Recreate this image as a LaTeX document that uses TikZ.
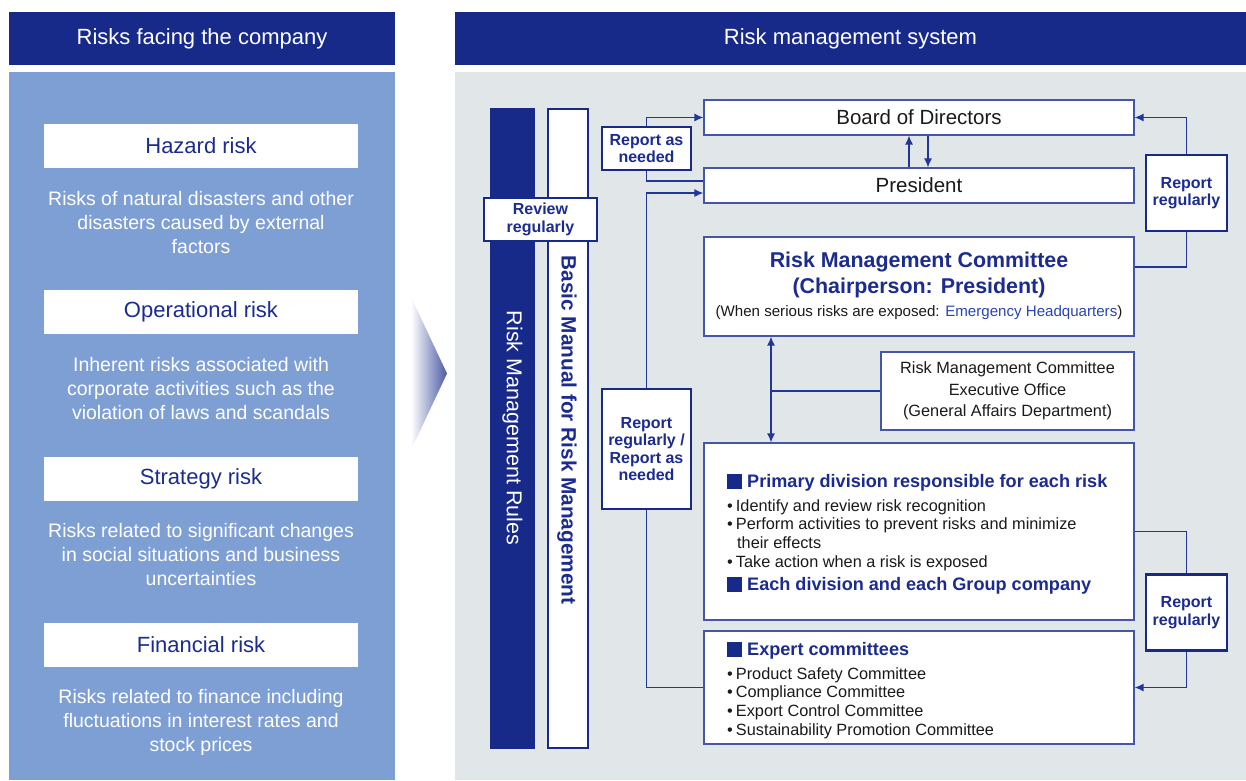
\documentclass[tikz,border=0pt]{standalone}
\usepackage{fontspec}
\setmainfont{Liberation Sans}
\usetikzlibrary{arrows.meta}
\definecolor{navy}{HTML}{172A8A}
\definecolor{panelblue}{HTML}{7E9FD3}
\definecolor{panelgray}{HTML}{E1E7E8}
\definecolor{lineblue}{HTML}{22359A}
\definecolor{boxline}{HTML}{4555AA}
\definecolor{titleblue}{HTML}{1B2C8E}
\definecolor{txt}{HTML}{1A1A1A}
\definecolor{linkblue}{HTML}{2A45B0}
\tikzset{
  header/.style={fill=navy,text=white,minimum width=386,minimum height=53,font=\fontsize{22}{26}\selectfont,inner sep=0},
  riskbox/.style={fill=white,minimum width=314,minimum height=44,text=titleblue,font=\fontsize{22}{26}\selectfont,inner sep=0},
  riskdesc/.style={text=white,align=center,font=\fontsize{19.5}{24}\selectfont,inner sep=0},
  orgbox/.style={draw=boxline,line width=1.2pt,fill=white,inner sep=0},
  labelbox/.style={draw=navy,line width=2.6pt,fill=white,text=titleblue,align=center,inner sep=0,font=\bfseries\fontsize{16}{17.5}\selectfont},
  conn/.style={draw=lineblue,line width=1.3pt},
  arr/.style={conn,-{Latex[length=9pt,width=8pt]}},
  dblarr/.style={conn,{Latex[length=9pt,width=8pt]}-{Latex[length=9pt,width=8pt]}},
  plain/.style={text=txt,inner sep=0},
  bullet/.style={text=txt,inner sep=0,anchor=base west,font=\fontsize{16.3}{18}\selectfont},
  sechead/.style={text=titleblue,inner sep=0,anchor=base west,font=\bfseries\fontsize{18.1}{20}\selectfont},
  sq/.style={fill=navy,minimum width=15,minimum height=15,inner sep=0}
}
\begin{document}
\begin{tikzpicture}[x=1pt,y=-1pt]
\useasboundingbox (0,0) rectangle (1246,780);
\fill[white] (0,0) rectangle (1246,780);
% ---------- left column ----------
\node[header] (lhead) at (202,38.5) {Risks facing the company};
\fill[panelblue] (9,72) rectangle (395,780);
\node[riskbox] (haz) at (201,146) {Hazard risk};
\node[riskdesc] (hazd) at (201,223) {Risks of natural disasters and other\\disasters caused by external\\factors};
\node[riskbox] (ope) at (201,312) {Operational risk};
\node[riskdesc] (oped) at (201,389) {Inherent risks associated with\\corporate activities such as the\\violation of laws and scandals};
\node[riskbox] (str) at (201,478.5) {Strategy risk};
\node[riskdesc] (strd) at (201,555) {Risks related to significant changes\\in social situations and business\\uncertainties};
\node[riskbox] (fin) at (201,645) {Financial risk};
\node[riskdesc] (find) at (201,722) {Risks related to finance including\\fluctuations in interest rates and\\stock prices};
% ---------- big arrow ----------
\shade[left color=white,right color=navy!78] (411,297) -- (447,373.5) -- (411,450) -- cycle;
% ---------- right column ----------
\node[header,minimum width=791] (rhead) at (850.5,38.5) {Risk management system};
\fill[panelgray] (455,72) rectangle (1246,780);
% bars
\node[fill=navy,minimum width=45,minimum height=641,inner sep=0] (rules) at (512.5,428.5) {};
\node[text=white,rotate=-90,font=\fontsize{21.5}{24}\selectfont,inner sep=0] (rulest) at (512.5,428) {Risk Management Rules};
\node[draw=navy,line width=2pt,fill=white,minimum width=40,minimum height=639,inner sep=0] (manual) at (568,428.5) {};
\node[text=titleblue,rotate=-90,font=\bfseries\fontsize{20.8}{24}\selectfont,inner sep=0] (manualt) at (567,430) {Basic Manual for Risk Management};
\node[labelbox,minimum width=113,minimum height=43] (review) at (540.5,219.5) {Review\\regularly};
% org boxes
\node[orgbox,minimum width=430,minimum height=35,font=\fontsize{20.5}{23}\selectfont,text=txt] (bod) at (919,117.5) {Board of Directors};
\node[orgbox,minimum width=430,minimum height=35,font=\fontsize{20.5}{23}\selectfont,text=txt] (pres) at (919,185.5) {President};
\node[orgbox,minimum width=430,minimum height=99] (rmc) at (919,286.5) {};
\node[text=titleblue,align=center,font=\bfseries\fontsize{21.4}{26}\selectfont,inner sep=0] (rmct) at (919,275) {Risk Management Committee\\(Chairperson: President)};
\node[plain,font=\fontsize{15.1}{17}\selectfont] (rmcn) at (919,313) {(When serious risks are exposed: \textcolor{linkblue}{Emergency Headquarters})};
\node[orgbox,minimum width=253,minimum height=78,align=center,text=txt,font=\fontsize{16.3}{21.5}\selectfont] (exo) at (1007.5,391) {Risk Management Committee\\Executive Office\\(General Affairs Department)};
\node[orgbox,minimum width=430,minimum height=177] (pd) at (919,531.5) {};
\node[sq] (sq1) at (734.5,481) {};
\node[sechead] (pdt) at (747,487.5) {Primary division responsible for each risk};
\node[bullet] (b1) at (727,511.5) {•\hspace{3pt}Identify and review risk recognition};
\node[bullet] (b2) at (727,529.5) {•\hspace{3pt}Perform activities to prevent risks and minimize};
\node[bullet] (b2b) at (737,548) {their effects};
\node[bullet] (b3) at (727,567) {•\hspace{3pt}Take action when a risk is exposed};
\node[sq] (sq2) at (734.5,584) {};
\node[sechead] (pdt2) at (747,590.5) {Each division and each Group company};
\node[orgbox,minimum width=430,minimum height=113] (exp) at (919,687.5) {};
\node[sq] (sq3) at (734.5,649) {};
\node[sechead] (expt) at (747,655.5) {Expert committees};
\node[bullet] (e1) at (727,679) {•\hspace{3pt}Product Safety Committee};
\node[bullet] (e2) at (727,697.5) {•\hspace{3pt}Compliance Committee};
\node[bullet] (e3) at (727,716.5) {•\hspace{3pt}Export Control Committee};
\node[bullet] (e4) at (727,735.5) {•\hspace{3pt}Sustainability Promotion Committee};
% label boxes
\node[labelbox,minimum width=89,minimum height=43] (ran) at (646.5,148.5) {Report as\\needed};
\node[labelbox,minimum width=89,minimum height=120] (rrl) at (646.5,449) {Report\\regularly /\\Report as\\needed};
\node[labelbox,minimum width=81,minimum height=76] (rru) at (1186.5,193) {Report\\regularly};
\node[labelbox,minimum width=81,minimum height=76] (rrb) at (1186.5,612.5) {Report\\regularly};
% connectors
\coordinate (upx) at (909,0);
\coordinate (dnx) at (928,0);
\coordinate (vx) at (771,0);
\draw[arr] (ran.north) |- (bod.west);
\draw[conn] (ran.south) |- ([yshift=4.5pt]pres.west);
\draw[arr] (pres.north -| upx) -- (bod.south -| upx);
\draw[arr] (bod.south -| dnx) -- (pres.north -| dnx);
\draw[arr] (rru.north) |- (bod.east);
\draw[conn] ([yshift=19.5pt]rmc.east) -| (rru.south);
\draw[arr] (rrl.north) |- ([yshift=-7.5pt]pres.west);
\draw[conn] (rrl.south) |- (exp.west);
\draw[dblarr] (rmc.south -| vx) -- (pd.north -| vx);
\draw[conn] (vx |- exo.west) -- (exo.west);
\draw[conn] (pd.east) -| (rrb.north);
\draw[arr] (rrb.south) |- (exp.east);
\end{tikzpicture}
\end{document}
